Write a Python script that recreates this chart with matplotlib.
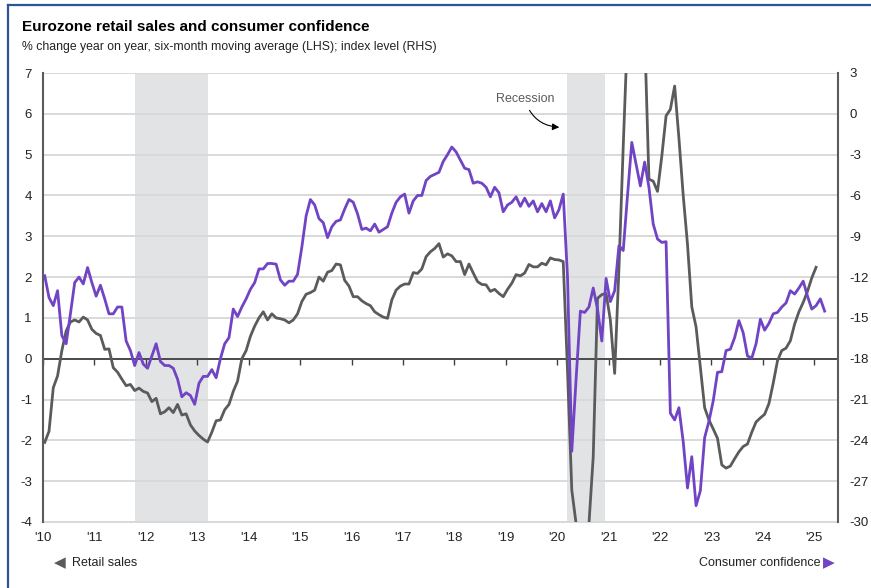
import numpy as np
import matplotlib
matplotlib.use("Agg")
import matplotlib.pyplot as plt
from matplotlib.lines import Line2D

# --- Data (monthly, Jan 2010 onwards) ---
retail_sales = [
    -2.05, -1.78, -0.71, -0.42, 0.2, 0.68, 0.9, 0.95, 0.9, 1.02, 0.95, 0.72,
    0.62, 0.57, 0.23, 0.24, -0.22, -0.33, -0.5, -0.66, -0.63, -0.78, -0.72, -0.8,
    -0.84, -1.05, -0.97, -1.35, -1.3, -1.2, -1.32, -1.12, -1.38, -1.35, -1.62, -1.77,
    -1.88, -1.97, -2.04, -1.8, -1.52, -1.5, -1.25, -1.12, -0.8, -0.55, 0.0, 0.2,
    0.55, 0.8, 1.0, 1.15, 0.95, 1.1, 1.0, 0.98, 0.95, 0.88, 0.95, 1.1,
    1.4, 1.58, 1.62, 1.68, 2.0, 1.9, 2.12, 2.16, 2.32, 2.3, 1.92, 1.78,
    1.52, 1.52, 1.42, 1.35, 1.3, 1.15, 1.08, 1.02, 0.99, 1.44, 1.68, 1.78,
    1.83, 1.83, 2.11, 2.09, 2.2, 2.5, 2.62, 2.7, 2.82, 2.49, 2.57, 2.52,
    2.38, 2.38, 2.06, 2.32, 2.1, 1.89, 1.82, 1.81, 1.65, 1.7, 1.6, 1.52,
    1.7, 1.85, 2.06, 2.03, 2.1, 2.31, 2.25, 2.25, 2.34, 2.3, 2.47, 2.43,
    2.42, 2.38, -0.3, -3.22, -4.04, -4.5, -4.5, -4.05, -2.4, 1.48, 1.57, 1.6,
    0.95, -0.36, 2.2, 5.2, 8.0, 9.5, 10.0, 9.5, 8.0, 4.4, 4.35, 4.1,
    4.96, 5.95, 6.11, 6.68, 5.4, 4.0, 2.8, 1.27, 0.78, -0.2, -1.2, -1.5,
    -1.72, -1.95, -2.6, -2.68, -2.63, -2.45, -2.28, -2.15, -2.09, -1.8, -1.55, -1.45,
    -1.36, -1.1, -0.6, -0.05, 0.2, 0.26, 0.44, 0.85, 1.15, 1.38, 1.65, 1.98,
    2.24,
]
consumer_confidence = [
    -11.9, -13.5, -14.1, -13.0, -16.3, -16.9, -14.7, -12.4, -12.0, -12.5, -11.3, -12.4,
    -13.4, -12.6, -13.6, -14.7, -14.7, -14.2, -14.2, -16.7, -17.4, -18.5, -17.55, -18.4,
    -18.7, -17.8, -16.9, -18.2, -18.5, -18.5, -18.7, -19.5, -20.8, -20.5, -20.7, -21.35,
    -19.8, -19.3, -19.3, -18.8, -19.4, -18.0, -16.9, -16.45, -14.35, -14.9, -14.2, -13.6,
    -12.9, -12.4, -11.4, -11.4, -11.0, -11.0, -11.05, -12.2, -12.6, -12.3, -12.3, -11.8,
    -9.8, -7.5, -6.3, -6.7, -7.7, -8.0, -9.1, -8.3, -7.9, -7.8, -7.0, -6.3,
    -6.5, -7.35, -8.5, -8.4, -8.6, -8.1, -8.7, -8.5, -8.3, -7.3, -6.5, -6.1,
    -5.9, -7.3, -6.4, -6.0, -6.0, -4.9, -4.6, -4.45, -4.3, -3.5, -3.0, -2.44,
    -2.8, -3.4, -4.0, -4.1, -5.1, -5.0, -5.1, -5.4, -6.1, -5.4, -5.8, -7.2,
    -6.7, -6.5, -6.1, -6.8, -6.2, -6.8, -6.4, -7.2, -6.6, -7.2, -6.4, -7.65,
    -7.05, -5.9, -12.0, -24.8, -19.5, -14.5, -14.6, -14.2, -12.8, -14.35, -16.7, -12.1,
    -13.8, -13.0, -9.7, -10.05, -6.0, -2.1, -3.7, -5.3, -3.55, -5.4, -8.1, -9.2,
    -9.45, -9.4, -22.0, -22.5, -21.6, -24.1, -27.5, -25.2, -28.8, -27.7, -23.8, -22.6,
    -21.1, -19.0, -18.95, -17.4, -17.3, -16.45, -15.2, -16.1, -17.8, -17.95, -16.9, -15.1,
    -15.9, -15.4, -14.7, -14.6, -14.2, -13.9, -13.0, -13.25, -12.8, -12.3, -13.4, -14.35,
    -14.1, -13.6, -14.5,
]
recessions = [(2011.79, 2013.21), (2020.19, 2020.93)]
years = list(range(2010, 2026))
year_labels = ["'" + str(y)[2:] for y in years]

# --- Style ---
GRAY = '#595b5d'
PURPLE = '#7044c4'
SHADE = '#e2e3e5'
GRID = '#d9d9d9'
TXT = '#222222'
plt.rcParams['font.family'] = ['Liberation Sans', 'DejaVu Sans']
plt.rcParams['axes.unicode_minus'] = False

x_rs = 2010 + (np.arange(len(retail_sales)) + 0.4) / 12
x_cc = 2010 + (np.arange(len(consumer_confidence)) + 0.4) / 12

fig = plt.figure(figsize=(8.71, 5.88), dpi=100)
ax = fig.add_axes([43 / 871, 1 - 522 / 588, (838 - 43) / 871, (522 - 73) / 588])
ax2 = ax.twinx()

for start, end in recessions:
    ax.axvspan(start, end, color=SHADE, lw=0, zorder=0)

ax.set_ylim(-4, 7)
ax.set_yticks(range(-4, 8))
ax.set_xlim(2010, 2025.46)
ax.grid(axis='y', color=GRID, lw=1.4, zorder=1)
ax.set_axisbelow(True)
ax.axhline(0, color='#404040', lw=1.3, zorder=2)

ax.plot(x_rs, retail_sales, color=GRAY, lw=2.0, zorder=4)
ax2.plot(x_cc, consumer_confidence, color=PURPLE, lw=2.0, zorder=3)
ax2.set_ylim(-30, 3)
ax2.set_yticks(range(-30, 4, 3))

# x tick marks sit on the zero line, labels along the bottom edge
ax.spines['bottom'].set_position(('data', 0))
ax.spines['bottom'].set_visible(False)
ax.set_xticks(years)
ax.tick_params(axis='x', direction='out', length=4, width=1, color='#404040',
               labelbottom=False)
sec = ax.secondary_xaxis(0.0)
sec.set_xticks(years, year_labels)
sec.tick_params(length=0, pad=7, labelsize=9.5, labelcolor=TXT)
sec.spines['bottom'].set_color(GRID)
sec.spines['bottom'].set_linewidth(1.4)

for a in (ax, ax2):
    a.spines['top'].set_visible(False)
ax.spines['right'].set_visible(False)
ax.spines['left'].set_color(GRAY)
ax.spines['left'].set_linewidth(1.5)
ax2.spines['right'].set_color(GRAY)
ax2.spines['right'].set_linewidth(1.5)
ax2.spines['left'].set_visible(False)
ax2.spines['bottom'].set_visible(False)
ax.tick_params(axis='y', length=0, pad=8, labelsize=9.5, labelcolor=TXT)
ax2.tick_params(axis='y', length=0, pad=8, labelsize=9.5, labelcolor=TXT)

ax.annotate('Recession', xy=(2020.04, 5.67), xytext=(2019.37, 6.36),
            ha='center', va='center', fontsize=9, color=GRAY,
            arrowprops=dict(arrowstyle='-|>', connectionstyle='arc3,rad=0.35',
                            color='black', lw=0.8, shrinkA=2, shrinkB=0,
                            mutation_scale=10))

# --- Titles ---
fig.text(22 / 871, 1 - 27 / 588, 'Eurozone retail sales and consumer confidence',
         fontsize=11, fontweight='bold', va='center', ha='left', color='black')
fig.text(22 / 871, 1 - 47 / 588,
         '% change year on year, six-month moving average (LHS); index level (RHS)',
         fontsize=8.8, va='center', ha='left', color=TXT)

# --- Bottom legend ---
fig.text(59.5 / 871, 1 - 563 / 588, '\u25c0', fontsize=11, color=GRAY,
         ha='center', va='center', family='DejaVu Sans')
fig.text(72 / 871, 1 - 563 / 588, 'Retail sales', fontsize=9, color=TXT,
         ha='left', va='center')
fig.text(829 / 871, 1 - 563 / 588, '\u25b6', fontsize=11, color=PURPLE,
         ha='center', va='center', family='DejaVu Sans')
fig.text(820 / 871, 1 - 563 / 588, 'Consumer confidence', fontsize=9, color=TXT,
         ha='right', va='center')

# --- Frame ---
fig.add_artist(Line2D([7.5 / 871, 7.5 / 871], [0, 1 - 5 / 588], color='#2b5597', lw=1.6))
fig.add_artist(Line2D([7.5 / 871, 1], [1 - 5 / 588, 1 - 5 / 588], color='#2b5597', lw=1.6))

fig.savefig('out.png', dpi=100)
